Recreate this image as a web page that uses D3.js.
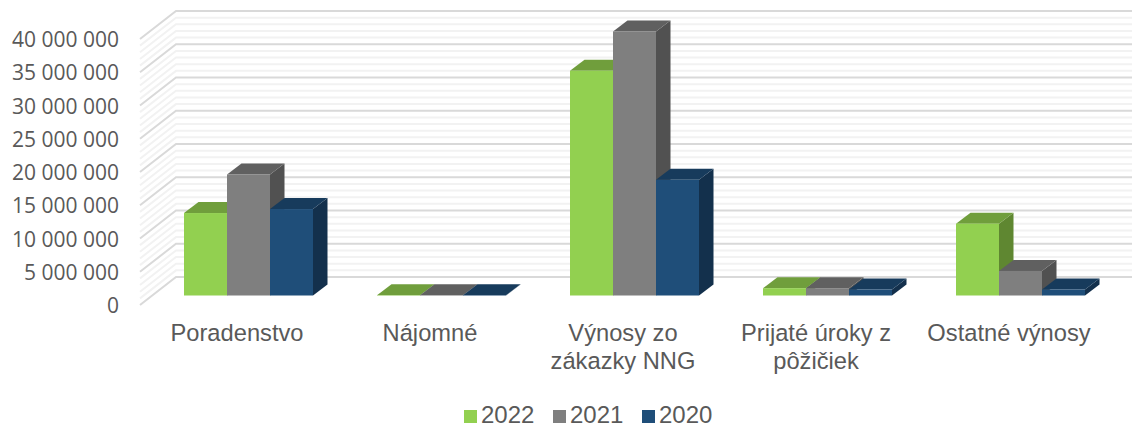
<!doctype html>
<html lang="en">
  <head>
    <meta charset="UTF-8" />
    <title>Výnosy 2020-2022</title>
    <script src="https://d3js.org/d3.v7.min.js"></script>
    <style>
      body {
        margin: 0;
        background: #fff;
      }

      text {
        font-family: 'Liberation Sans', Arial, sans-serif;
        fill: #595959;
      }

      .tick-label {
        font-family: 'Open Sans', sans-serif;
        font-size: 21px;
      }

      .category {
        font-size: 23.7px;
      }

      .legend-label {
        font-size: 24px;
      }
    </style>
  </head>
  <body>
    <svg width="1132" height="425"></svg>
    <script>
      const categories = [
        ['Poradenstvo'],
        ['Nájomné'],
        ['Výnosy zo', 'zákazky NNG'],
        ['Prijaté úroky z', 'pôžičiek'],
        ['Ostatné výnosy'],
      ];
      const years = ['2022', '2021', '2020'];
      const values2022 = [12400000, 50000, 33800000, 1100000, 10800000];
      const values2021 = [18200000, 50000, 39700000, 1100000, 3700000];
      const values2020 = [13000000, 50000, 17400000, 900000, 900000];
      const series = [values2022, values2021, values2020];
      const yTicks = d3.range(0, 40000001, 5000000);
      const minorTicks = d3.range(0, 40000001, 1000000);

      const faceColors = ['#92d050', '#7f7f7f', '#1f4e79'];
      const topColors = ['#709e3c', '#606060', '#173b5c'];
      const sideColors = ['#5f8731', '#515151', '#13304c'];

      const svg = d3.select('svg');

      // front edge of the chart box
      const y = d3.scaleLinear().domain([0, 40000000]).range([305, 39]);
      const x = d3
        .scaleBand()
        .domain(d3.range(categories.length))
        .range([140, 1105]);

      // 3d offsets
      const wall = { dx: 36, dy: -28 };
      const barShift = { dx: 12, dy: -9.5 };
      const depth = { dx: 14.5, dy: -11 };
      const wallRight = 1132;
      const barWidth = 43;

      // Gridlines on the side and back walls
      function gridPath(v) {
        const y0 = y(v);
        return `M${x.range()[0]},${y0}L${x.range()[0] + wall.dx},${y0 + wall.dy}L${wallRight},${y0 + wall.dy}`;
      }

      svg
        .append('g')
        .selectAll('path')
        .data(minorTicks.filter((d) => d % 5000000 !== 0))
        .enter()
        .append('path')
        .attr('d', gridPath)
        .attr('fill', 'none')
        .attr('stroke', '#f2f2f2')
        .attr('stroke-width', 2);

      svg
        .append('g')
        .selectAll('path')
        .data(yTicks)
        .enter()
        .append('path')
        .attr('d', gridPath)
        .attr('fill', 'none')
        .attr('stroke', '#d9d9d9')
        .attr('stroke-width', 2);

      // Y axis labels
      const yAxis = svg
        .append('g')
        .attr('transform', 'translate(119,1)')
        .call(
          d3
            .axisLeft(y)
            .tickValues(yTicks)
            .tickSize(0)
            .tickPadding(0)
            .tickFormat((d) =>
              d3.format(',')(d).replace(/,/g, ' '),
            ),
        );
      yAxis.select('.domain').remove();
      yAxis.selectAll('text').attr('class', 'tick-label');

      // Bars, back to front so later series cover side faces
      const bars = svg
        .append('g')
        .attr('transform', `translate(${barShift.dx},${barShift.dy})`);

      categories.forEach((c, i) => {
        series.forEach((values, s) => {
          const left =
            x(i) +
            x.bandwidth() / 2 -
            (barWidth * series.length) / 2 +
            s * barWidth;
          const right = left + barWidth;
          const top = y(values[i]);
          const base = y(0);
          const g = bars.append('g');

          g.append('path')
            .attr(
              'd',
              `M${right},${top}L${right + depth.dx},${top + depth.dy}L${right + depth.dx},${base + depth.dy}L${right},${base}Z`,
            )
            .attr('fill', sideColors[s]);
          g.append('path')
            .attr(
              'd',
              `M${left},${top}L${left + depth.dx},${top + depth.dy}L${right + depth.dx},${top + depth.dy}L${right},${top}Z`,
            )
            .attr('fill', topColors[s]);
          g.append('rect')
            .attr('x', left)
            .attr('y', top)
            .attr('width', barWidth)
            .attr('height', base - top)
            .attr('fill', faceColors[s]);
        });
      });

      // Category labels
      svg
        .append('g')
        .selectAll('text')
        .data(categories)
        .enter()
        .append('text')
        .attr('class', 'category')
        .attr('text-anchor', 'middle')
        .attr('y', 341)
        .each(function (lines, i) {
          d3.select(this)
            .selectAll('tspan')
            .data(lines)
            .enter()
            .append('tspan')
            .attr('x', x(i) + x.bandwidth() / 2 + 0.5)
            .attr('dy', (d, j) => (j ? 27.5 : 0))
            .text((d) => d);
        });

      // Legend
      const legend = svg
        .selectAll('.legend')
        .data(years)
        .enter()
        .append('g')
        .attr('class', 'legend')
        .attr('transform', (d, i) => `translate(${[464, 553, 642][i]},410)`);

      legend
        .append('rect')
        .attr('width', 13)
        .attr('height', 13)
        .attr('fill', (d, i) => faceColors[i]);

      legend
        .append('text')
        .attr('class', 'legend-label')
        .attr('x', 17)
        .attr('y', 13)
        .text((d) => d);
    </script>
  </body>
</html>
